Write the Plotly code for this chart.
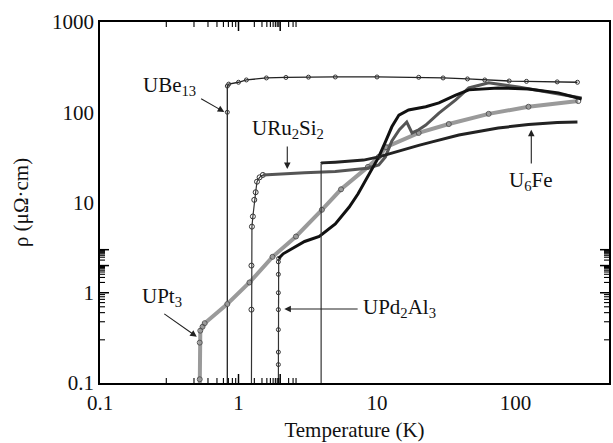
import math
import plotly.graph_objects as go

# ---------------- data ----------------
UBe13_T = [0.83, 0.83, 0.83, 0.85, 1.0, 1.14, 1.59, 2.2, 3.2, 5, 10, 20, 30, 45, 60, 90, 120, 200, 280]
UBe13_rho = [0.09, 100, 195, 205, 215, 228, 240, 243, 245, 246, 246, 244, 240, 234, 228, 222, 220, 217, 215]

URu2Si2_T = [1.24, 1.24, 1.24, 1.25, 1.27, 1.3, 1.33, 1.36, 1.42, 1.5, 2, 3, 5, 7, 8.5, 10.3, 11.5,
             12.8, 14.5, 16.4, 17.9, 20, 22.5, 28, 37, 46, 64, 105, 173, 300]
URu2Si2_rho = [0.09, 0.65, 2.0, 5.4, 7, 10.7, 13, 17, 19, 20.2, 20.8, 21.3, 22, 23, 24, 26, 32,
               48, 64, 78, 59, 64, 72, 98, 137, 186, 212, 190, 168, 144]
URu2Si2_tc_end = 10

UPd2Al3_T = [1.94, 1.94, 1.94, 1.94, 1.94, 1.94, 1.94, 1.94, 1.95, 2.1, 3.0, 3.83, 5, 6.3, 7.3, 8.3,
             9.3, 10.3, 11.5, 12.8, 14.4, 16.9, 22.5, 28, 37, 46, 75, 124, 204, 300]
UPd2Al3_rho = [0.09, 0.16, 0.22, 0.39, 0.65, 1.0, 1.6, 2.2, 2.4, 2.7, 3.7, 4.2, 5.8, 8.9, 12.5, 17.8,
               24, 32, 47, 69, 93, 106, 115, 127, 155, 177, 186, 181, 164, 140]
UPd2Al3_tc_end = 9

U6Fe_T = [3.95, 3.95, 4.0, 5, 6.3, 8, 10.3, 14, 20, 25, 39, 75, 124, 200, 280]
U6Fe_rho = [0.09, 27, 27.5, 28, 28.5, 29.5, 32, 37, 43, 47, 56, 67, 73, 77, 78]

UPt3_T = [0.525, 0.525, 0.525, 0.53, 0.55, 0.57, 0.83, 1.2, 1.76, 2.6, 4.0, 5.5, 8.6, 10.3, 11.6,
          20, 33, 64, 124, 284]
UPt3_rho = [0.09, 0.11, 0.28, 0.38, 0.42, 0.46, 0.75, 1.3, 2.5, 4.2, 8.3, 14, 24.8, 32, 41,
            59, 74, 96, 115, 133]

x_tick_vals = [0.1, 1, 10, 100]
x_tick_text = ["0.1", "1", "10", "100"]
y_tick_vals = [0.1, 1, 10, 100, 1000]
y_tick_text = ["0.1", "1", "10", "100", "1000"]
minor_vals = [m * 10 ** d for d in range(-1, 3) for m in range(2, 10)]

X_RANGE = [-1, 2.675]
Y_RANGE = [-1, 3]

# label texts, positions (T, rho) and arrows (tail -> head) in data units
labels = [
    ("UBe<sub>13</sub>", 0.32, 196, "center"),
    ("URu<sub>2</sub>Si<sub>2</sub>", 2.29, 65, "center"),
    ("UPt<sub>3</sub>", 0.28, 0.90, "center"),
    ("UPd<sub>2</sub>Al<sub>3</sub>", 7.67, 0.68, "left"),
    ("U<sub>6</sub>Fe", 130, 17.3, "center"),
]
arrows = [
    (0.524, 144, 0.79, 100.7),
    (2.25, 43.5, 2.25, 23.5),
    (0.284, 0.6, 0.5, 0.325),
    (7.43, 0.66, 2.14, 0.66),
    (130, 26, 130, 64),
]

FONT = "Liberation Serif, Times New Roman, serif"

fig = go.Figure()

fig.add_trace(go.Scatter(x=UBe13_T, y=UBe13_rho, mode="lines+markers",
                         line=dict(color="#222", width=1.3),
                         marker=dict(symbol="circle-open", size=4, color="#333"),
                         showlegend=False))
fig.add_trace(go.Scatter(x=UPt3_T, y=UPt3_rho, mode="lines+markers",
                         line=dict(color="#9a9a9a", width=4),
                         marker=dict(symbol="circle-open", size=5, color="#555"),
                         showlegend=False))
fig.add_trace(go.Scatter(x=URu2Si2_T[:URu2Si2_tc_end], y=URu2Si2_rho[:URu2Si2_tc_end],
                         mode="lines+markers", line=dict(color="#333", width=1.2),
                         marker=dict(symbol="circle-open", size=5, color="#333"),
                         showlegend=False))
fig.add_trace(go.Scatter(x=URu2Si2_T[URu2Si2_tc_end - 1:], y=URu2Si2_rho[URu2Si2_tc_end - 1:],
                         mode="lines", line=dict(color="#555", width=3),
                         showlegend=False))
fig.add_trace(go.Scatter(x=UPd2Al3_T[:UPd2Al3_tc_end], y=UPd2Al3_rho[:UPd2Al3_tc_end],
                         mode="lines+markers", line=dict(color="#333", width=1.2),
                         marker=dict(symbol="circle-open", size=4, color="#333"),
                         showlegend=False))
fig.add_trace(go.Scatter(x=UPd2Al3_T[UPd2Al3_tc_end - 1:], y=UPd2Al3_rho[UPd2Al3_tc_end - 1:],
                         mode="lines", line=dict(color="#111", width=3),
                         showlegend=False))
fig.add_trace(go.Scatter(x=U6Fe_T[:2], y=U6Fe_rho[:2], mode="lines",
                         line=dict(color="#333", width=1.2), showlegend=False))
fig.add_trace(go.Scatter(x=U6Fe_T[1:], y=U6Fe_rho[1:], mode="lines",
                         line=dict(color="#222", width=3), showlegend=False))

# ---- inward tick marks as pixel-sized line shapes anchored to the frame ----
x_lo, x_hi = 10 ** X_RANGE[0], 10 ** X_RANGE[1]
y_lo, y_hi = 10 ** Y_RANGE[0], 10 ** Y_RANGE[1]
x_minor = [v for v in minor_vals if x_lo < v < x_hi]
y_minor = [v for v in minor_vals if y_lo < v < y_hi]

shapes = []
for vals, length, width in ((x_tick_vals, 9, 1.5), (x_minor, 5, 1.1)):
    for v in vals:
        lv = math.log10(v)
        for anchor, sign in ((0, 1), (1, -1)):
            shapes.append(dict(type="line", xref="x", yref="paper", ysizemode="pixel",
                               yanchor=anchor, x0=lv, x1=lv, y0=0, y1=sign * length,
                               line=dict(color="black", width=width), layer="above"))
for vals, length, width in ((y_tick_vals, 9, 1.5), (y_minor, 5, 1.1)):
    for v in vals:
        lv = math.log10(v)
        for anchor, sign in ((0, 1), (1, -1)):
            shapes.append(dict(type="line", yref="y", xref="paper", xsizemode="pixel",
                               xanchor=anchor, y0=lv, y1=lv, x0=0, x1=sign * length,
                               line=dict(color="black", width=width), layer="above"))

annotations = []
for text, T, r, anchor in labels:
    annotations.append(dict(x=math.log10(T), y=math.log10(r), xref="x", yref="y",
                            text=text, showarrow=False, xanchor=anchor, yanchor="middle",
                            font=dict(family=FONT, size=21, color="#111")))
for t0, r0, t1, r1 in arrows:
    annotations.append(dict(x=math.log10(t1), y=math.log10(r1), ax=math.log10(t0), ay=math.log10(r0),
                            xref="x", yref="y", axref="x", ayref="y", text="",
                            showarrow=True, arrowhead=2, arrowsize=1.2, arrowwidth=1.1,
                            arrowcolor="#222", standoff=0, startstandoff=0))

main_axis = dict(type="log", showgrid=False, zeroline=False, showline=True,
                 linecolor="black", linewidth=1.5, mirror=True, ticks="",
                 tickfont=dict(family=FONT, size=21, color="#111"))

fig.update_layout(
    width=613, height=443,
    margin=dict(l=100, r=2, t=22, b=60),
    paper_bgcolor="white", plot_bgcolor="white",
    xaxis=dict(**main_axis, range=X_RANGE, tickvals=x_tick_vals, ticktext=x_tick_text,
               title=dict(text="Temperature (K)", font=dict(family=FONT, size=21, color="#111"),
                          standoff=8)),
    yaxis=dict(**main_axis, range=Y_RANGE, tickvals=y_tick_vals, ticktext=y_tick_text,
               title=dict(text="ρ (μΩ·cm)", font=dict(family=FONT, size=21, color="#111"),
                          standoff=18)),
    annotations=annotations,
    shapes=shapes,
    showlegend=False,
)

fig.write_html("out.html", config={"displayModeBar": False},
               post_script="document.body.style.margin='0';")
